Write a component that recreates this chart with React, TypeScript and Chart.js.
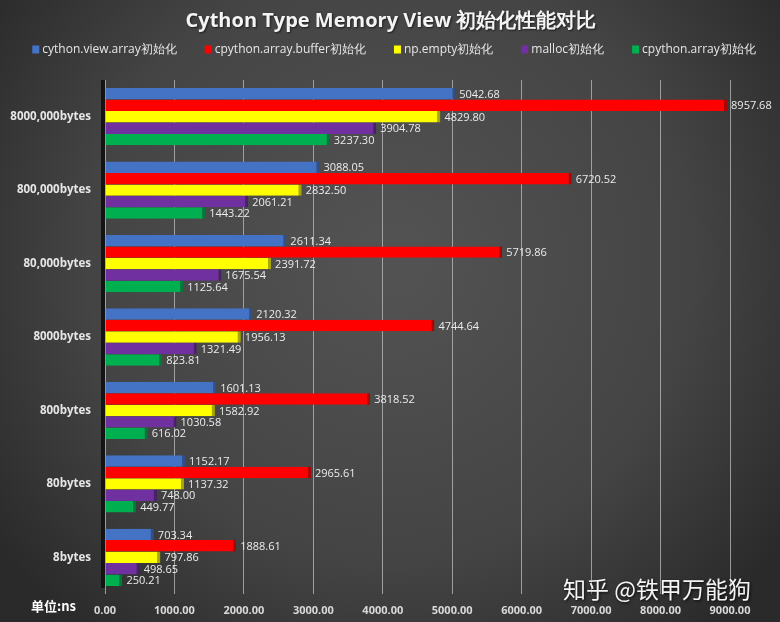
import React, { useEffect, useRef } from "react";
import { Chart, registerables } from "chart.js";

Chart.register(...registerables);

const categories = ["8000,000bytes", "800,000bytes", "80,000bytes", "8000bytes", "800bytes", "80bytes", "8bytes"];
const seriesNames = ["cython.view.array初始化", "cpython.array.buffer初始化", "np.empty初始化", "malloc初始化", "cpython.array初始化"];
const cythonViewArray = [5042.68, 3088.05, 2611.34, 2120.32, 1601.13, 1152.17, 703.34];
const cpythonArrayBuffer = [8957.68, 6720.52, 5719.86, 4744.64, 3818.52, 2965.61, 1888.61];
const npEmpty = [4829.8, 2832.5, 2391.72, 1956.13, 1582.92, 1137.32, 797.86];
const mallocInit = [3904.78, 2061.21, 1675.54, 1321.49, 1030.58, 748.0, 498.65];
const cpythonArray = [3237.3, 1443.22, 1125.64, 823.81, 616.02, 449.77, 250.21];
const seriesValues = [cythonViewArray, cpythonArrayBuffer, npEmpty, mallocInit, cpythonArray];
const seriesColors = ["#4472C4", "#FF0000", "#FFFF00", "#7030A0", "#00B050"];
const seriesEdgeColors = ["#2F4F8F", "#B00000", "#A8A800", "#4A1F6E", "#007A38"];
const xMin = 0;
const xMax = 9000;
const xStep = 1000;
const titleText = "Cython Type Memory View 初始化性能对比";
const unitText = "单位:ns";
const watermarkText = "知乎 @铁甲万能狗";

const backgroundPlugin = {
  id: "bgPlugin",
  beforeDraw(chart: any) {
    const { ctx, width, height } = chart;
    ctx.save();
    const g = ctx.createRadialGradient(width * 0.5, height * 0.42, 30, width * 0.5, height * 0.42, width * 0.62);
    g.addColorStop(0, "#525252");
    g.addColorStop(0.6, "#444444");
    g.addColorStop(1, "#2a2a2a");
    ctx.fillStyle = g;
    ctx.fillRect(0, 0, width, height);
    ctx.restore();
  },
  beforeDatasetsDraw(chart: any) {
    const { ctx, chartArea } = chart;
    ctx.save();
    ctx.fillStyle = "#141414";
    ctx.fillRect(chartArea.left - 4, chartArea.top, 4, chartArea.bottom - chartArea.top - 6);
    ctx.restore();
  },
};

const labelsPlugin = {
  id: "valueLabels",
  afterDatasetsDraw(chart: any) {
    const { ctx } = chart;
    ctx.save();
    ctx.font = "11px 'Open Sans', sans-serif";
    ctx.fillStyle = "#ececec";
    ctx.textAlign = "left";
    ctx.textBaseline = "middle";
    chart.data.datasets.forEach((ds: any, di: number) => {
      const meta = chart.getDatasetMeta(di);
      meta.data.forEach((el: any, i: number) => {
        const v = ds.data[i] as number;
        ctx.fillText(v.toFixed(2), el.x + 4, el.y + 1);
      });
    });
    ctx.restore();
  },
};

const legendPlugin = {
  id: "customLegend",
  afterDraw(chart: any) {
    const { ctx, width } = chart;
    ctx.save();
    // title
    ctx.font = "bold 20px 'Open Sans', sans-serif";
    ctx.fillStyle = "#f4f4f4";
    ctx.textAlign = "center";
    ctx.textBaseline = "middle";
    ctx.shadowColor = "rgba(0,0,0,0.6)";
    ctx.shadowBlur = 2;
    ctx.shadowOffsetX = 1;
    ctx.shadowOffsetY = 1;
    ctx.fillText(titleText, 391, 21);
    ctx.shadowColor = "transparent";
    ctx.shadowBlur = 0;
    ctx.shadowOffsetX = 0;
    ctx.shadowOffsetY = 0;

    // legend
    ctx.textAlign = "left";
    ctx.font = "12px 'Open Sans', sans-serif";
    const box = 7;
    const textGap = 3;
    const gap = 28;
    const items = chart.data.datasets.map((ds: any) => ({
      label: ds.label,
      color: ds.backgroundColor,
      w: box + textGap + ctx.measureText(ds.label).width,
    }));
    const total = items.reduce((s: number, it: any) => s + it.w, 0) + gap * (items.length - 1);
    let x = (width - total) / 2 + 4;
    const y = 50;
    items.forEach((it: any) => {
      ctx.fillStyle = it.color;
      ctx.fillRect(x, y - box / 2 - 1, box, box + 1);
      ctx.fillStyle = "#e6e6e6";
      ctx.fillText(it.label, x + box + textGap, y);
      x += it.w + gap;
    });
    // unit text
    ctx.font = "bold 13px 'Noto Sans CJK SC', sans-serif";
    ctx.fillStyle = "#ffffff";
    ctx.fillText(unitText, 31, 606);
    // watermark
    ctx.font = "23px 'Noto Sans CJK SC', sans-serif";
    ctx.shadowColor = "rgba(0,0,0,0.85)";
    ctx.shadowBlur = 3;
    ctx.shadowOffsetX = 1;
    ctx.shadowOffsetY = 1;
    ctx.fillStyle = "#f4f4f4";
    ctx.fillText(watermarkText, 563, 589);
    ctx.restore();
  },
};

export default function App() {
  const canvasRef = useRef<HTMLCanvasElement | null>(null);

  useEffect(() => {
    document.body.style.margin = "0";
    document.body.style.overflow = "hidden";
    const canvas = canvasRef.current;
    if (!canvas) return;
    const chart = new Chart(canvas, {
      type: "bar",
      data: {
        labels: categories,
        datasets: seriesNames.map((name, i) => ({
          label: name,
          data: seriesValues[i],
          backgroundColor: seriesColors[i],
          borderColor: seriesEdgeColors[i],
          borderWidth: { top: 0, right: 3, bottom: 0, left: 0 },
          borderSkipped: false,
          categoryPercentage: 0.78,
          barPercentage: 1.0,
        })),
      },
      options: {
        indexAxis: "y",
        responsive: false,
        animation: false,
        layout: { padding: { top: 80, right: 50, bottom: 4, left: 0 } },
        plugins: {
          legend: { display: false },
          tooltip: { enabled: false },
          title: { display: false },
        },
        scales: {
          x: {
            min: xMin,
            max: xMax,
            ticks: {
              stepSize: xStep,
              color: "#d9d9d9",
              padding: 10,
              font: { family: "'Open Sans', sans-serif", size: 11, weight: "bold" },
              callback: (v: any) => Number(v).toFixed(2),
            },
            grid: { color: "rgba(190,190,190,0.75)", lineWidth: 1, drawTicks: false },
            border: { display: false },
            afterFit: (scale: any) => {
              scale.height = 24;
            },
          },
          y: {
            ticks: {
              color: "#e6e6e6",
              padding: 14,
              font: { family: "'Open Sans', sans-serif", size: 11.5, weight: "bold" },
            },
            grid: { display: false, drawTicks: false },
            border: { display: false },
            afterFit: (scale: any) => {
              scale.width = 105;
            },
          },
        },
      },
      plugins: [backgroundPlugin, labelsPlugin, legendPlugin],
    });
    return () => chart.destroy();
  }, []);

  return (
    <div style={{ width: 780, height: 622 }}>
      <canvas ref={canvasRef} width={780} height={622} style={{ display: "block" }} />
    </div>
  );
}
